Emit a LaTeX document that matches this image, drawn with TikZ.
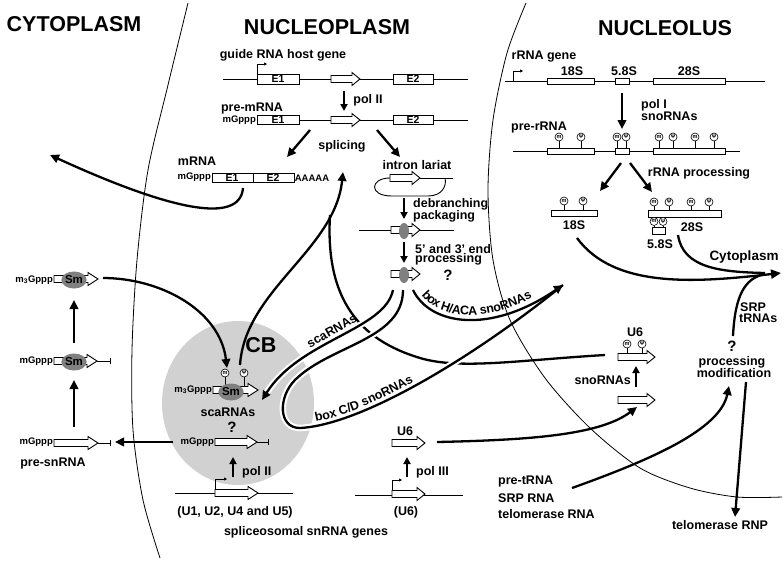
\documentclass[tikz,border=0pt]{standalone}
\usepackage{fontspec}
\setmainfont{Liberation Sans}
\usetikzlibrary{arrows.meta,decorations.text,shapes.geometric}
\newcommand\fL{\fontsize{12.5}{14}\selectfont\bfseries}
\newcommand\fM{\fontsize{11.5}{12}\selectfont\bfseries}
\newcommand\fS{\fontsize{9.5}{10}\selectfont\bfseries}
\newcommand\fE{\fontsize{10.5}{11}\selectfont\bfseries}
\newcommand\fH{\fontsize{21.5}{24}\selectfont\bfseries}
\newcommand\fT{\fontsize{5.5}{6}\selectfont\bfseries}
\newcommand\fQ{\fontsize{15}{16}\selectfont\bfseries}
\newcommand\fC{\fontsize{13.5}{15}\selectfont\bfseries}
\newcommand\blkarr[4][8]{\draw[genebox] (#2,#4-3.5) -- (#3-#1,#4-3.5) -- (#3-#1,#4-6.5) -- (#3,#4) -- (#3-#1,#4+6.5) -- (#3-#1,#4+3.5) -- (#2,#4+3.5) -- cycle;}
\newcommand\mkr[4]{\draw[line width=0.6pt] (#1,#3) -- (#1,#2+4); \node[marker] at (#1,#2) {#4};}
\newcommand\exon[5]{\draw[genebox] (#1,#3-#5) rectangle (#2,#3+#5); \node[font=\fE, inner sep=0pt] at ({(#1+#2)/2},#3+0.3) {#4};}
\begin{document}
\begin{tikzpicture}[x=1pt,y=-1pt,
  genebox/.style={draw=black, line width=0.9pt, fill=white},
  gline/.style={line width=0.9pt},
  bnd/.style={line width=0.8pt},
  arr/.style={line width=2.3pt, -{Triangle[length=9pt,width=8.5pt]}},
  sarr/.style={line width=2.2pt, -{Triangle[length=7pt,width=7pt]}},
  curve/.style={line width=2.3pt},
  prom/.style={line width=0.7pt, -{Triangle[length=3pt,width=3pt]}},
  barend/.style={line width=0.9pt, -{Bar[width=6pt]}},
  lbl/.style={font=\fL, inner sep=0pt},
  sml/.style={font=\fS, inner sep=0pt},
  hd/.style={font=\fH, inner sep=0pt},
  marker/.style={circle, draw, fill=white, inner sep=0pt, minimum size=8pt, font=\fT, line width=0.6pt},
  smb/.style={ellipse, fill=black!50, inner sep=0pt, minimum width=23pt, minimum height=17pt, font=\fM},
  gap/.style={preaction={draw=white, line width=6.5pt}}
]
\useasboundingbox (0,0) rectangle (784,566);
\fill[white] (0,0) rectangle (784,566);

% Cajal body
\fill[black!18] (238,403) ellipse [x radius=76pt, y radius=82pt];

% ---------- long curves ----------
% (a) CB -> splicing
\draw[curve, -{Triangle[length=9pt,width=8.5pt]}] (240,365) .. controls (245,290) and (335,250) .. (343,172);
% (b) modified U6 -> splicing
\draw[curve] (605,355) .. controls (520,360) and (460,370) .. (420,358) .. controls (360,340) and (325,300) .. (330,215);
% scaRNAs
\draw[curve, gap, -{Triangle[length=9pt,width=8.5pt]}] (393,290) .. controls (385,330) and (300,340) .. (262,400);
% box C/D
\draw[curve, gap] (403,290) .. controls (403,340) and (330,345) .. (295,380) .. controls (278,397) and (278,428) .. (300,428) .. controls (360,425) and (470,360) .. (563,285);
% box H/ACA
\draw[curve, -{Triangle[length=9pt,width=8.5pt]}] (413,290) .. controls (430,325) and (490,335) .. (563,285);
\path[decorate, decoration={text along path, text={|\fL|box H/ACA snoRNAs}, raise=4.5pt, text align={left indent=10pt}}] (413,290) .. controls (430,325) and (490,335) .. (563,285);
\path[decorate, decoration={text along path, text={|\fL|scaRNAs}, raise=5pt, text align={left indent=70pt}}] (262,400) .. controls (300,340) and (385,330) .. (393,290);
\path[decorate, decoration={text along path, text={|\fL|box C/D snoRNAs}, raise=4pt, text align={left indent=17pt}}] (300,428) .. controls (360,425) and (470,360) .. (563,285);

% boundaries
\draw[bnd] plot[smooth] coordinates {(188,3) (168,85) (148,170) (137,260) (132,350) (133,430) (143,500) (160,558)};
\draw[bnd] plot[smooth] coordinates {(526,3) (507,53) (493,120) (488,190) (493,260) (510,320) (545,378) (590,428) (640,468) (690,488) (737,497) (782,497)};

% headings
\node[hd] (cyto) at (74,24) {CYTOPLASM};
\node[hd] (nucp) at (327,27) {NUCLEOPLASM};
\node[hd] (nucl) at (665,28) {NUCLEOLUS};

% ---------- guide RNA host gene ----------
\node[lbl] (ghg) at (283,55) {guide RNA host gene};
\draw[gline] (223,79) -- (468,79);
\exon{257}{299}{79}{E1}{5}
\blkarr{331}{360}{79}
\exon{393}{433}{79}{E2}{5}
\draw[prom] (257,74) -- (257,64) -- (267,64);
\draw[sarr] (344,91) -- (344,111);
\node[lbl] (pol2a) at (368,100) {pol II};

\node[lbl] (premrna) at (252,108) {pre-mRNA};
\draw[gline] (299,120) -- (468,120);
\exon{257}{299}{120}{E1}{4.5}
\blkarr{331}{360}{120}
\exon{393}{433}{120}{E2}{4.5}
\node[sml, anchor=east] at (256,120) {mGppp};
\draw[arr] (310,130) -- (287,157);
\draw[arr] (377,130) -- (400,157);
\node[lbl] (splicing) at (342,146) {splicing};

% mRNA
\node[lbl] (mrna) at (197,161) {mRNA};
\draw[genebox] (212,173) rectangle (294,182);
\draw[line width=0.9pt] (253,173) -- (253,182);
\node[font=\fE, inner sep=0pt] at (232,177.8) {E1};
\node[font=\fE, inner sep=0pt] at (273,177.8) {E2};
\node[sml, anchor=east] at (211,177.5) {mGppp};
\node[sml] at (312,178) {AAAAA};
\draw[arr] (243,188) .. controls (240,225) and (170,210) .. (50,155);

% intron lariat
\node[lbl] (lariat) at (417,165) {intron lariat};
\draw[gline] (420,178) -- (453,178);
\draw[gline] (390,178) .. controls (370,178) and (368,196) .. (392,196) -- (428,196) .. controls (442,196) and (447,186) .. (445,178);
\blkarr{390}{420}{178}
\draw[sarr] (404,198) -- (404,219);
\node[lbl, anchor=west] at (413,204) {debranching};
\node[lbl, anchor=west] at (413,216) {packaging};
\draw[gline] (359,230) -- (454,230);
\blkarr{391}{420}{230}
\node[ellipse, fill=black!50, minimum width=10pt, minimum height=16pt, inner sep=0pt] at (404,231) {};
\draw[sarr] (404,242) -- (404,263);
\node[lbl, anchor=west] at (415,249) {5' and 3' end};
\node[lbl, anchor=west] at (415,259) {processing};
\blkarr{391}{420}{274}
\node[ellipse, fill=black!50, minimum width=10pt, minimum height=16pt, inner sep=0pt] at (404,275) {};
\node[font=\fQ, inner sep=0pt] at (448,275) {?};

% ---------- cytoplasm snRNAs ----------
\draw[arr] (103,278) .. controls (160,278) and (220,310) .. (227,368);
\blkarr[10]{54}{98}{279}
\node[smb] (smA) at (74,280) {Sm};
\node[sml, anchor=east] at (53,280) {m\textsubscript{3}Gppp};
\draw[arr] (74,343) -- (74,300);
\draw[barend] (97,361) -- (111,361);
\blkarr[10]{54}{97}{361}
\node[smb] (smB) at (74,362) {Sm};
\node[sml, anchor=east] at (53,361) {mGppp};
\draw[arr] (74,427) -- (74,380);
\draw[barend] (98,443) -- (111,443);
\blkarr[10]{54}{98}{443}
\node[sml, anchor=east] at (53,442) {mGppp};
\node[lbl] (presn) at (53,463) {pre-snRNA};
\draw[arr] (173,442) -- (115,442);

% ---------- Cajal body ----------
\node[hd] (cb) at (261,345) {CB};
\mkr{225}{373}{386.5}{m}
\mkr{244}{373}{386.5}{Ψ}
\blkarr[10]{213}{258}{390}
\node[smb] (smC) at (231,392) {Sm};
\node[sml, anchor=east] at (212,390) {m\textsubscript{3}Gppp};
\node[lbl] (scacb) at (228,412) {scaRNAs};
\node[font=\fQ, inner sep=0pt] at (232,427) {?};
\draw[barend] (257,442) -- (269,442);
\blkarr[10]{215}{257}{442}
\node[sml, anchor=east] at (214,442) {mGppp};
\draw[sarr] (233,477) -- (233,457);
\node[lbl, anchor=west] at (242,472) {pol II};
\draw[gline] (175,493) -- (293,493);
\blkarr[10]{215}{258}{493}
\draw[prom] (215,489.5) -- (215,479) -- (227,479);
\node[lbl] (uu) at (235,512) {(U1, U2, U4 and U5)};
\node[lbl] (spl) at (306,532) {spliceosomal snRNA genes};

% ---------- U6 ----------
\node[lbl] (u6a) at (405,431) {U6};
\blkarr{392}{425}{443}
\draw[curve, -{Triangle[length=9pt,width=8.5pt]}] (437,442) .. controls (530,440) and (600,435) .. (637,407);
\draw[sarr] (407,477) -- (407,457);
\node[lbl, anchor=west] at (416,472) {pol III};
\draw[gline] (355,495) -- (463,495);
\blkarr{392}{425}{494}
\draw[prom] (392,490.5) -- (392,480) -- (402,480);
\node[lbl] (u6g) at (406,512) {(U6)};

\node[lbl] (u6b) at (635,332) {U6};
\mkr{627}{344}{353.5}{m}
\mkr{642}{344}{353.5}{Ψ}
\blkarr{618}{655}{357}
\draw[sarr] (636,387) -- (636,366);
\node[lbl, anchor=east] at (631,380) {snoRNAs};
\blkarr{618}{655}{400}

% ---------- rRNA ----------
\node[lbl] (rg) at (544,57) {rRNA gene};
\node[lbl] at (572,71) {18S};
\node[lbl] at (624,71) {5.8S};
\node[lbl] at (689,71) {28S};
\draw[gline] (505,81) -- (765,81);
\draw[genebox] (547,78) rectangle (594,84);
\draw[genebox] (615,78) rectangle (629,84);
\draw[genebox] (653,78) rectangle (725,84);
\draw[prom] (513,81) -- (513,71) -- (523,71);
\draw[arr] (622,93) -- (622,129);
\node[lbl, anchor=west] at (641,105) {pol I};
\node[lbl, anchor=west] at (641,116) {snoRNAs};
\node[lbl] (prr) at (539,127) {pre-rRNA};
\draw[gline] (513,151) -- (740,151);
\mkr{559}{137}{148}{m}
\mkr{581}{137}{148}{Ψ}
\mkr{617}{137}{148}{m}
\mkr{626}{137}{148}{Ψ}
\mkr{659}{137}{148}{m}
\mkr{673}{137}{148}{Ψ}
\mkr{695}{137}{148}{m}
\mkr{714}{137}{148}{Ψ}
\draw[genebox] (547,148) rectangle (594,154);
\draw[genebox] (615,148) rectangle (629,154);
\draw[genebox] (653,148) rectangle (725,154);
\draw[arr] (621,163) -- (600,191);
\draw[arr] (630,163) -- (652,192);
\node[lbl] (rproc) at (699,173) {rRNA processing};

% products
\mkr{564}{201}{210}{m}
\mkr{583}{201}{210}{Ψ}
\draw[genebox] (551,210) rectangle (597,216);
\node[lbl] at (574,225) {18S};
\mkr{654}{202}{210}{m}
\mkr{669}{202}{210}{Ψ}
\mkr{691}{202}{210}{m}
\mkr{709}{202}{210}{Ψ}
\draw[genebox] (648,210) rectangle (721,217);
\mkr{654}{221.5}{227}{m}
\mkr{663}{221.5}{227}{Ψ}
\draw[genebox] (652,227) rectangle (665,234);
\node[lbl] at (660,244) {5.8S};
\node[lbl] at (692,227) {28S};

\draw[curve, -{Triangle[length=10pt,width=9pt]}] (577,238) .. controls (615,290) and (700,282) .. (781,273);
\draw[curve] (678,235) .. controls (683,268) and (720,272) .. (765,273);
\draw[curve] (733,336) .. controls (735,295) and (745,278) .. (765,274);
\node[font=\fC, inner sep=0pt] (cytlbl) at (744,257) {Cytoplasm};
\node[lbl, anchor=west] at (740,307) {SRP};
\node[lbl, anchor=west] at (739,318) {tRNAs};
\node[font=\fQ, inner sep=0pt] at (732,346) {?};
\node[lbl] (proc) at (732,362) {processing};
\node[lbl] (modif) at (734,373) {modification};

\draw[curve, -{Triangle[length=9pt,width=8.5pt]}] (572,488) .. controls (650,460) and (720,430) .. (729,386);
\draw[curve, -{Triangle[length=9pt,width=8.5pt]}] (746,382) -- (735,517);
\node[lbl, anchor=west] at (498,481) {pre-tRNA};
\node[lbl, anchor=west] at (498,498) {SRP RNA};
\node[lbl, anchor=west] at (498,514) {telomerase RNA};
\node[lbl] (trnp) at (720,525) {telomerase RNP};
\end{tikzpicture}
\end{document}
